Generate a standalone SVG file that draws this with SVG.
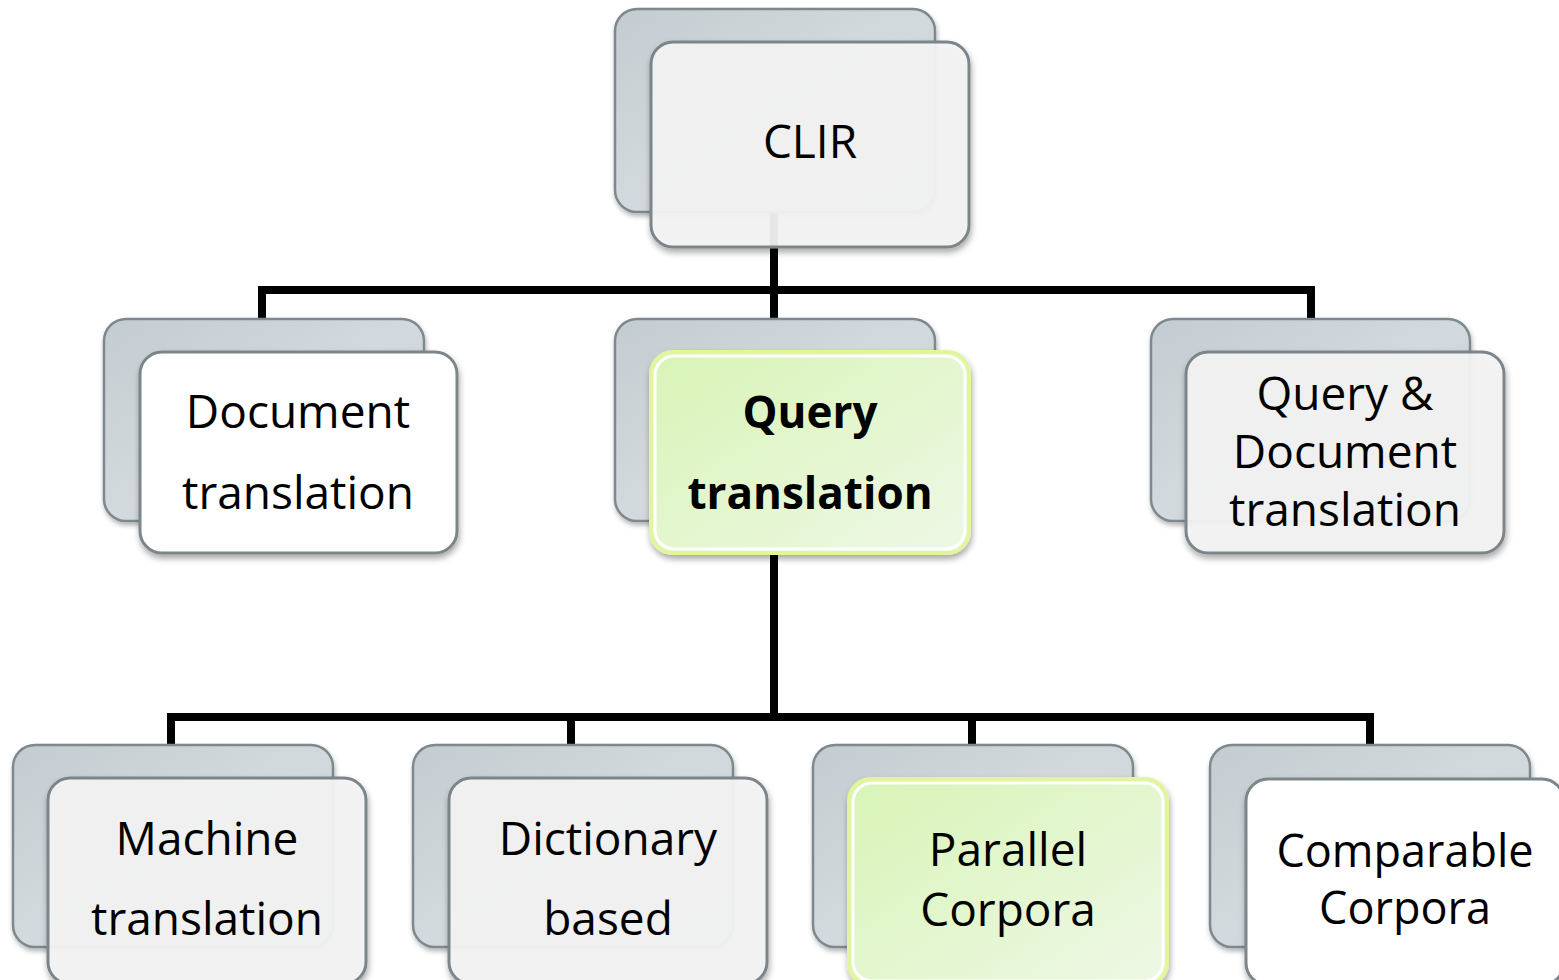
<svg xmlns="http://www.w3.org/2000/svg" width="1559" height="980" viewBox="0 0 1559 980">
<defs>
<linearGradient id="backG" x1="0" y1="0" x2="1" y2="1">
<stop offset="0" stop-color="#c3ccd0"/><stop offset="0.5" stop-color="#d3dadd"/><stop offset="1" stop-color="#bfc9cd"/>
</linearGradient>
<linearGradient id="greenG" x1="0" y1="0" x2="1" y2="1">
<stop offset="0" stop-color="#d8f4b6"/><stop offset="1" stop-color="#eef8e6"/>
</linearGradient>
<filter id="sh" x="-10%" y="-10%" width="125%" height="125%">
<feDropShadow dx="1" dy="4" stdDeviation="3" flood-color="#000" flood-opacity="0.35"/>
</filter>
<filter id="sh2" x="-10%" y="-10%" width="125%" height="125%">
<feDropShadow dx="1" dy="3" stdDeviation="2.5" flood-color="#000" flood-opacity="0.3"/>
</filter>
</defs>
<style>
.back{fill:url(#backG);stroke:#7d898e;stroke-width:2.5}
.front{fill:#f4f4f4;fill-opacity:0.93;stroke:#7c8589;stroke-width:3}
.white{fill:#ffffff;fill-opacity:1}
.green{fill:url(#greenG);stroke:#e2f59c;stroke-width:4}
.greenIn{fill:none;stroke:#ffffff;stroke-width:3}
.conn{fill:none;stroke:#000;stroke-width:8;stroke-linejoin:miter}
text{font-family:"Open Sans","Noto Sans","Liberation Sans",sans-serif;font-size:46px;fill:#000;text-anchor:middle}
.b{font-weight:bold;font-size:44px}
.s{font-size:45px}
</style>
<rect width="1559" height="980" fill="#ffffff"/>

<g id="connectors">
<path class="conn" d="M774,211 V290 M262,322 V290 H1311 V322 M774,290 V322"/>
<path class="conn" d="M774,552 V717 M171,748 V717 H1370 V748 M571,717 V748 M972,717 V748"/>
</g>

<g id="clir">
<rect class="back" x="615" y="9" width="320" height="203" rx="22" filter="url(#sh2)"/>
<rect class="front" x="651" y="42" width="318" height="205" rx="22" filter="url(#sh)"/>
<text x="810" y="158">CLIR</text>
</g>

<g id="document-translation">
<rect class="back" x="104" y="319" width="320" height="202" rx="22" filter="url(#sh2)"/>
<rect class="front white" x="140" y="352" width="317" height="201" rx="22" filter="url(#sh)"/>
<text x="298" y="428">Document</text>
<text x="298" y="509">translation</text>
</g>

<g id="query-translation">
<rect class="back" x="615" y="319" width="320" height="202" rx="22" filter="url(#sh2)"/>
<rect class="green" x="651" y="352" width="318" height="201" rx="22" filter="url(#sh)"/>
<rect class="greenIn" x="655" y="356" width="310" height="193" rx="19"/>
<text class="b" x="810" y="428">Query</text>
<text class="b" x="810" y="509">translation</text>
</g>

<g id="query-document-translation">
<rect class="back" x="1151" y="319" width="319" height="202" rx="22" filter="url(#sh2)"/>
<rect class="front" x="1186" y="352" width="318" height="201" rx="22" filter="url(#sh)"/>
<text x="1345" y="410">Query &amp;</text>
<text x="1345" y="468">Document</text>
<text x="1345" y="526">translation</text>
</g>

<g id="machine-translation">
<rect class="back" x="13" y="745" width="320" height="202" rx="22" filter="url(#sh2)"/>
<rect class="front" x="48" y="778" width="318" height="206" rx="22" filter="url(#sh)"/>
<text x="207" y="855">Machine</text>
<text x="207" y="935">translation</text>
</g>

<g id="dictionary-based">
<rect class="back" x="413" y="745" width="320" height="202" rx="22" filter="url(#sh2)"/>
<rect class="front" x="449" y="778" width="318" height="206" rx="22" filter="url(#sh)"/>
<text x="608" y="855">Dictionary</text>
<text x="608" y="935">based</text>
</g>

<g id="parallel-corpora">
<rect class="back" x="813" y="745" width="320" height="202" rx="22" filter="url(#sh2)"/>
<rect class="green" x="849" y="779" width="318" height="206" rx="22" filter="url(#sh)"/>
<rect class="greenIn" x="853" y="783" width="310" height="198" rx="19"/>
<text x="1008" y="866">Parallel</text>
<text x="1008" y="926">Corpora</text>
</g>

<g id="comparable-corpora">
<rect class="back" x="1210" y="745" width="320" height="202" rx="22" filter="url(#sh2)"/>
<rect class="front white" x="1246" y="779" width="318" height="206" rx="22" filter="url(#sh)"/>
<text class="s" x="1405" y="867">Comparable</text>
<text class="s" x="1405" y="924">Corpora</text>
</g>
</svg>
